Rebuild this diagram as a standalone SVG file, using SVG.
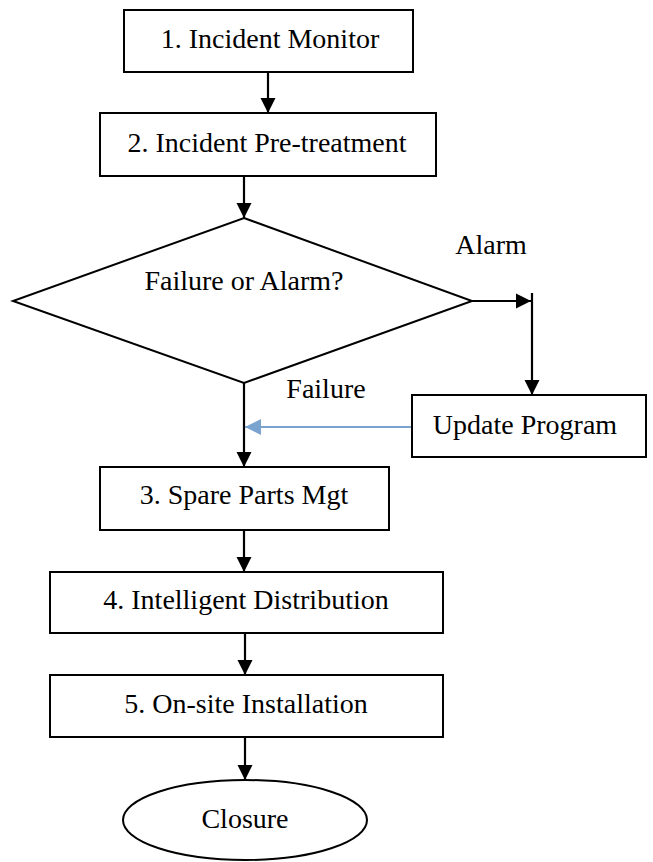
<svg xmlns="http://www.w3.org/2000/svg" width="653" height="862" viewBox="0 0 653 862">
<style>
.n{fill:#fff;stroke:#000;stroke-width:2}
.t{font-family:"Liberation Serif","Times New Roman",serif;font-size:28px;fill:#000;text-anchor:middle}
.c{stroke:#000;stroke-width:2.2;fill:none}
.b{stroke:#7aa3cf;stroke-width:2.2;fill:none}
</style>
<defs>
<marker id="ah" markerUnits="userSpaceOnUse" markerWidth="16" markerHeight="16" viewBox="0 0 16 16" refX="15" refY="8" orient="auto">
<path d="M0,0.5 L15,8 L0,15.5 Z" fill="#000"/>
</marker>
<marker id="ahb" markerUnits="userSpaceOnUse" markerWidth="17" markerHeight="18" viewBox="0 0 17 18" refX="16" refY="9" orient="auto">
<path d="M0,1 L16,9 L0,17 Z" fill="#7aa3cf"/>
</marker>
</defs>
<rect width="653" height="862" fill="#fff"/>
<g id="connectors">
<line class="c" x1="268" y1="72" x2="268" y2="113" marker-end="url(#ah)"/>
<line class="c" x1="244" y1="176" x2="244" y2="218" marker-end="url(#ah)"/>
<line class="c" x1="472" y1="301" x2="531" y2="301" marker-end="url(#ah)"/>
<line class="c" x1="532" y1="293" x2="532" y2="395" marker-end="url(#ah)"/>
<line class="c" x1="244" y1="383" x2="244" y2="467" marker-end="url(#ah)"/>
<line class="b" x1="412" y1="427" x2="245" y2="427" marker-end="url(#ahb)"/>
<line class="c" x1="244" y1="530" x2="244" y2="572" marker-end="url(#ah)"/>
<line class="c" x1="245" y1="633" x2="245" y2="675" marker-end="url(#ah)"/>
<line class="c" x1="245" y1="737" x2="245" y2="780" marker-end="url(#ah)"/>
<text class="t" x="491" y="254">Alarm</text>
<text class="t" x="326" y="398">Failure</text>
</g>
<g id="n1"><rect class="n" x="124" y="10" width="289" height="62"/><text class="t" x="270" y="48">1. Incident Monitor</text></g>
<g id="n2"><rect class="n" x="100" y="113" width="336" height="63"/><text class="t" x="267" y="152">2. Incident Pre-treatment</text></g>
<g id="d"><polygon class="n" points="244,218 472,301 244,383 13,301"/><text class="t" x="244" y="290">Failure or Alarm?</text></g>
<g id="up"><rect class="n" x="412" y="395" width="234" height="62"/><text class="t" x="525" y="434">Update Program</text></g>
<g id="n3"><rect class="n" x="100" y="467" width="289" height="63"/><text class="t" x="244" y="504">3. Spare Parts Mgt</text></g>
<g id="n4"><rect class="n" x="50" y="572" width="393" height="61"/><text class="t" x="246" y="609">4. Intelligent Distribution</text></g>
<g id="n5"><rect class="n" x="50" y="675" width="393" height="62"/><text class="t" x="246" y="713">5. On-site Installation</text></g>
<g id="end"><ellipse class="n" cx="245" cy="820" rx="122" ry="40"/><text class="t" x="245" y="828">Closure</text></g>
</svg>
